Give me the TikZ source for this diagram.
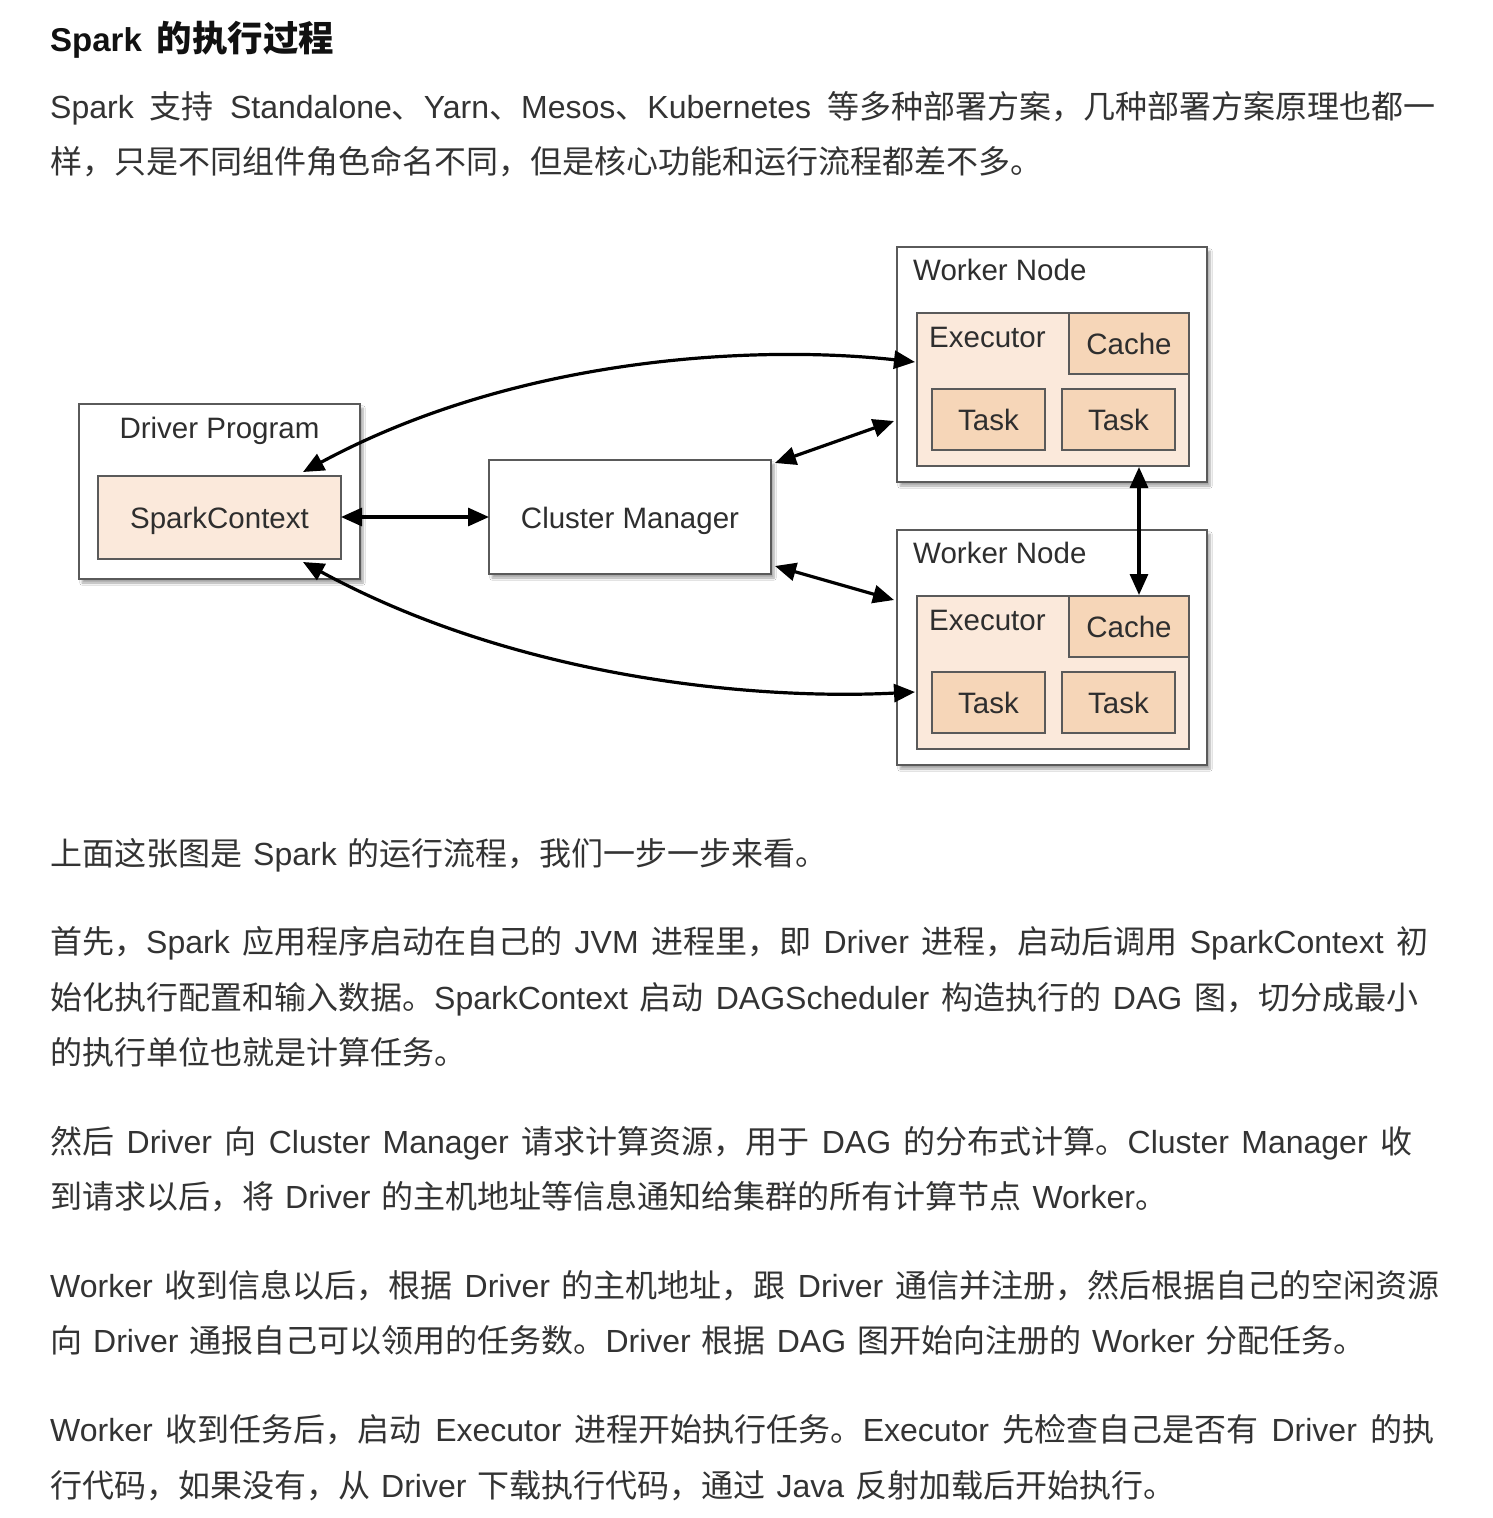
\documentclass[tikz,border=0pt]{standalone}
\usepackage{fontspec}
\setmainfont{Noto Sans CJK SC}
\newfontfamily\dfont{Liberation Sans}
\newfontfamily\latinfont{Liberation Sans}
\newcommand\la[1]{{\latinfont #1}}
\newcommand\jline[2]{\hbox to #1pt{#2}}
\protected\def\bodyspacing{\spaceskip=11pt plus 20pt\relax}
\usetikzlibrary{arrows.meta,shadows.blur}
\definecolor{bodytext}{HTML}{333333}
\definecolor{titletext}{HTML}{111111}
\definecolor{boxline}{HTML}{5A5A5A}
\definecolor{execfill}{HTML}{FBE9DB}
\definecolor{taskfill}{HTML}{F6D6B8}
\definecolor{dtext}{HTML}{2E2E2E}
\begin{document}
\begin{tikzpicture}[x=1pt,y=-1pt,
  bodyline/.style={anchor=base west,inner sep=0pt,text=bodytext,font=\fontsize{32}{38}\selectfont,execute at begin node=\bodyspacing},
  titleline/.style={anchor=base west,inner sep=0pt,text=titletext,font=\fontsize{35.4}{40}\selectfont\bfseries},
  outerbox/.style={draw=boxline,line width=1.8pt,fill=white,blur shadow={shadow xshift=3pt,shadow yshift=-4pt,shadow blur steps=6,shadow opacity=35}},
  execbox/.style={draw=boxline,line width=1.8pt,fill=execfill},
  taskbox/.style={draw=boxline,line width=1.8pt,fill=taskfill},
  dlabel/.style={inner sep=0pt,text=dtext,font=\dfont\fontsize{29.5}{34}\selectfont},
  conn/.style={line width=3.2pt,black,{Triangle[length=21pt,width=18pt]}-{Triangle[length=21pt,width=18pt]}},
]
\useasboundingbox (0,0) rectangle (1492,1518);
\fill[white] (0,0) rectangle (1492,1518);

% ---------- text above ----------
\node[titleline] (title) at (50,51) {{\latinfont\fontsize{33}{40}\selectfont Spark}\hspace{15pt}的执行过程};
\node[bodyline] (p1a) at (50,118) {\jline{1385}{\la{Spark} 支持 \la{Standalone}、\la{Yarn}、\la{Mesos}、\la{Kubernetes} 等多种部署方案，几种部署方案原理也都一}};
\node[bodyline] (p1b) at (50,173) {样，只是不同组件角色命名不同，但是核心功能和运行流程都差不多。};

% ---------- diagram ----------
\draw[outerbox] (79,404) rectangle (360,579);
\node[dlabel,anchor=base] (drvlab) at (219.5,438.5) {Driver Program};
\draw[execbox] (98,476) rectangle (341,559);
\node[dlabel,anchor=base] (sclab) at (219.5,528) {SparkContext};
\coordinate (scR) at (341,517);
\coordinate (scT) at (303,472);
\coordinate (scB) at (303,562);

\draw[outerbox] (489,460) rectangle (771,574);
\node[dlabel,anchor=base] (cmlab) at (630,528) {Cluster Manager};
\coordinate (cmL) at (489,517);
\coordinate (cmTR) at (775,463);
\coordinate (cmBR) at (775,566);

% worker nodes
\foreach \dy/\n in {0/1,283/2}{
  \begin{scope}[yshift=-\dy pt]
    \draw[outerbox] (897,247) rectangle (1207,482);
    \node[dlabel,anchor=base west] (wlab\n) at (913,280.5) {Worker Node};
    \draw[execbox] (917,313) rectangle (1189,466);
    \node[dlabel,anchor=base west] (exlab\n) at (929,347) {Executor};
    \draw[taskbox] (1069,313) rectangle (1189,374);
    \node[dlabel,anchor=base] (cache\n) at (1129,354) {Cache};
    \draw[taskbox] (932,389) rectangle (1045,450);
    \node[dlabel,anchor=base] (taska\n) at (988.5,430) {Task};
    \draw[taskbox] (1062,389) rectangle (1175,450);
    \node[dlabel,anchor=base] (taskb\n) at (1118.5,430) {Task};
  \end{scope}
}
\coordinate (ex1L) at (915,362);
\coordinate (ex2L) at (915,692);
\coordinate (w1L) at (894,421);
\coordinate (w2L) at (894,600);
\coordinate (ex1B) at (1139,467);
\coordinate (c2T) at (1139,595);

\draw[conn] (scR) -- (cmL);
\draw[conn] (cmTR) -- (w1L);
\draw[conn] (cmBR) -- (w2L);
\draw[conn] (ex1B) -- (c2T);
\draw[conn] (scT) .. controls (520,355) and (760,345) .. (ex1L);
\draw[conn] (scB) .. controls (520,680) and (760,700) .. (ex2L);

% ---------- text below ----------
\node[bodyline] (p2) at (50,865) {上面这张图是 \la{Spark} 的运行流程，我们一步一步来看。};
\node[bodyline] (p3a) at (50,953) {\jline{1378}{首先，\la{Spark} 应用程序启动在自己的 \la{JVM} 进程里，即 \la{Driver} 进程，启动后调用 \la{SparkContext} 初}};
\node[bodyline] (p3b) at (50,1009) {\jline{1368}{始化执行配置和输入数据。\la{SparkContext} 启动 \la{DAGScheduler} 构造执行的 \la{DAG} 图，切分成最小}};
\node[bodyline] (p3c) at (50,1064) {的执行单位也就是计算任务。};
\node[bodyline] (p4a) at (50,1153) {\jline{1362}{然后 \la{Driver} 向 \la{Cluster Manager} 请求计算资源，用于 \la{DAG} 的分布式计算。\la{Cluster Manager} 收}};
\node[bodyline] (p4b) at (50,1208) {到请求以后，将 \la{Driver} 的主机地址等信息通知给集群的所有计算节点 \la{Worker}。};
\node[bodyline] (p5a) at (50,1297) {\jline{1389}{\la{Worker} 收到信息以后，根据 \la{Driver} 的主机地址，跟 \la{Driver} 通信并注册，然后根据自己的空闲资源}};
\node[bodyline] (p5b) at (50,1352) {向 \la{Driver} 通报自己可以领用的任务数。\la{Driver} 根据 \la{DAG} 图开始向注册的 \la{Worker} 分配任务。};
\node[bodyline] (p6a) at (50,1441) {\jline{1384}{\la{Worker} 收到任务后，启动 \la{Executor} 进程开始执行任务。\la{Executor} 先检查自己是否有 \la{Driver} 的执}};
\node[bodyline] (p6b) at (50,1497) {行代码，如果没有，从 \la{Driver} 下载执行代码，通过 \la{Java} 反射加载后开始执行。};
\end{tikzpicture}
\end{document}
